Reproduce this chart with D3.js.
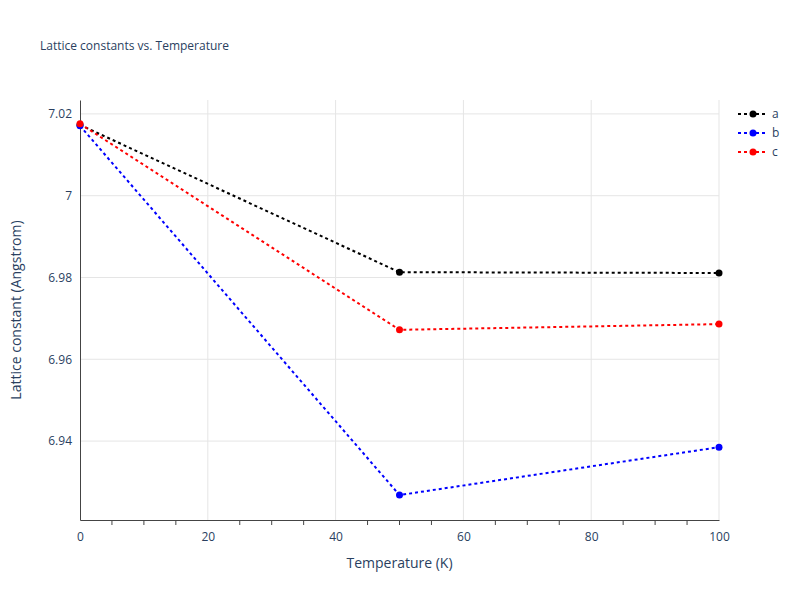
<html>
<script src="https://d3js.org/d3.v7.min.js"></script>
<body style="margin:0">
<svg width="800" height="600"></svg>
<script>
// data
const temps = [0, 50, 100];
const seriesNames = ['a', 'b', 'c'];
const seriesColors = ['black', 'blue', 'red'];
const aVals = [7.0173, 6.9813, 6.9811];
const bVals = [7.0171, 6.9268, 6.9385];
const cVals = [7.0176, 6.9672, 6.9686];
const xTicks = [0, 20, 40, 60, 80, 100];
const yTicks = [6.94, 6.96, 6.98, 7.00, 7.02];
const series = [aVals, bVals, cVals];

const mLeft = 80, mRight = 719, mTop = 100, mBottom = 520;
const svg = d3.select('svg').style('font-family', '"Open Sans", sans-serif');
svg.append('rect').attr('width', 800).attr('height', 600).attr('fill', 'white');

const x = d3.scaleLinear().domain([0, 100]).range([mLeft, mRight]);
const y = d3.scaleLinear().domain([6.9207, 7.0234]).range([mBottom, mTop]);

// grid
svg.append('g').selectAll('line').data(xTicks.slice(1)).join('line')
  .attr('x1', d => x(d)).attr('x2', d => x(d)).attr('y1', mTop).attr('y2', mBottom)
  .attr('stroke', '#e5e5e5');
svg.append('g').selectAll('line').data(yTicks).join('line')
  .attr('x1', mLeft).attr('x2', mRight).attr('y1', d => y(d)).attr('y2', d => y(d))
  .attr('stroke', '#e5e5e5');

// axes
const xAxis = svg.append('g').attr('transform', `translate(0,${mBottom})`)
  .call(d3.axisBottom(x).tickValues(xTicks).tickSize(0).tickPadding(12));
xAxis.select('.domain').attr('stroke', '#444');
// minor ticks
svg.append('g').selectAll('line').data(d3.range(5, 100, 5).filter(d => d % 20)).join('line')
  .attr('x1', d => x(d)).attr('x2', d => x(d)).attr('y1', mBottom).attr('y2', mBottom + 5)
  .attr('stroke', '#444');
const yAxis = svg.append('g').attr('transform', `translate(${mLeft},0)`)
  .call(d3.axisLeft(y).tickValues(yTicks).tickSize(0).tickPadding(8)
    .tickFormat(d => String(+d.toFixed(2))));
yAxis.select('.domain').attr('stroke', '#444');
svg.selectAll('.tick text').attr('fill', '#2a3f5f').style('font-size', '12px')
  .style('font-family', '"Open Sans", sans-serif');

// lines
const line = d3.line().x((d, i) => x(temps[i])).y(d => y(d));
series.forEach((vals, k) => {
  svg.append('path').datum(vals).attr('d', line).attr('fill', 'none')
    .attr('stroke', seriesColors[k]).attr('stroke-width', 2).attr('stroke-dasharray', '3,3');
  svg.append('g').selectAll('circle').data(vals).join('circle')
    .attr('cx', (d, i) => x(temps[i])).attr('cy', d => y(d)).attr('r', 3.5)
    .attr('fill', seriesColors[k]);
});

// titles
svg.append('text').attr('x', 40).attr('y', 50).text('Lattice constants vs. Temperature')
  .attr('fill', '#2a3f5f').style('font-size', '12px');
svg.append('text').attr('x', (mLeft + mRight) / 2).attr('y', 568).attr('text-anchor', 'middle')
  .text('Temperature (K)').attr('fill', '#2a3f5f').style('font-size', '14px');
svg.append('text').attr('transform', `translate(21,${(mTop + mBottom) / 2}) rotate(-90)`)
  .attr('text-anchor', 'middle').text('Lattice constant (Angstrom)')
  .attr('fill', '#2a3f5f').style('font-size', '14px');

// legend
seriesNames.forEach((n, k) => {
  const ly = 114 + k * 19;
  svg.append('line').attr('x1', 738).attr('x2', 768).attr('y1', ly).attr('y2', ly)
    .attr('stroke', seriesColors[k]).attr('stroke-width', 2).attr('stroke-dasharray', '3,3');
  svg.append('circle').attr('cx', 753).attr('cy', ly).attr('r', 3.5).attr('fill', seriesColors[k]);
  svg.append('text').attr('x', 772).attr('y', ly + 4).text(n)
    .attr('fill', '#2a3f5f').style('font-size', '12px');
});
</script>
</body>
</html>
